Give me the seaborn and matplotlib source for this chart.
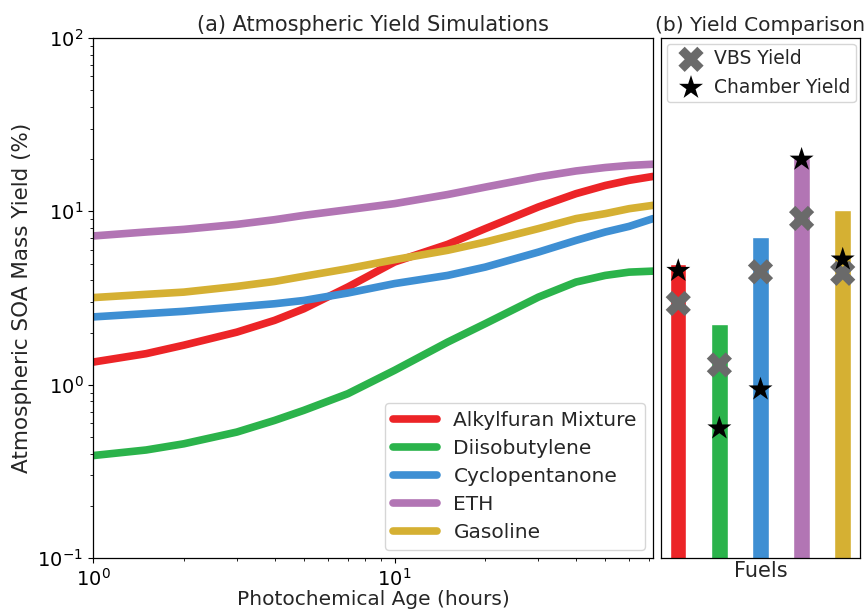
import numpy as np
import pandas as pd
import matplotlib
matplotlib.use("Agg")
import matplotlib.pyplot as plt
import seaborn as sns

# photochemical age sample points (hours) and read-off yields (%)
ages = [1, 1.5, 2, 3, 4, 5, 7, 10, 15, 20, 30, 40, 50, 60, 72]
alkylfuran = [1.35, 1.51, 1.69, 2.01, 2.35, 2.74, 3.66, 5.10, 6.45, 7.95, 10.6, 12.65, 14.1, 15.1, 15.9]
diisobutylene = [0.39, 0.42, 0.456, 0.533, 0.622, 0.711, 0.887, 1.21, 1.76, 2.25, 3.20, 3.91, 4.27, 4.46, 4.52]
cyclopentanone = [2.46, 2.57, 2.65, 2.81, 2.93, 3.06, 3.38, 3.83, 4.27, 4.77, 5.82, 6.80, 7.60, 8.19, 9.08]
eth = [7.21, 7.60, 7.87, 8.41, 8.95, 9.48, 10.22, 11.08, 12.5, 13.8, 15.8, 17.1, 17.9, 18.4, 18.7]
gasoline = [3.18, 3.32, 3.42, 3.69, 3.94, 4.22, 4.67, 5.26, 5.96, 6.65, 7.95, 9.08, 9.70, 10.36, 10.83]

fuels = ["Alkylfuran Mixture", "Diisobutylene", "Cyclopentanone", "ETH", "Gasoline"]
colors = ["#ec2427", "#2bb34b", "#3e8fd3", "#b275b4", "#d5b033"]

# panel (b)
bar_yield = [5.0, 2.24, 7.13, 20.2, 10.2]
vbs_yield = [2.94, 1.30, 4.48, 9.10, 4.39]
chamber_yield = [4.54, 0.56, 0.94, 19.9, 5.28]

sns.set_style("ticks")
plt.rcParams.update({
    "font.family": ["DejaVu Sans"],
    "font.size": 14,
    "axes.edgecolor": "black",
    "axes.linewidth": 0.9,
    "xtick.color": "black",
    "ytick.color": "black",
    "xtick.major.size": 3.5,
    "ytick.major.size": 3.5,
    "xtick.minor.size": 2,
    "ytick.minor.size": 2,
})

curves = pd.DataFrame({
    "age": ages * 5,
    "yield": alkylfuran + diisobutylene + cyclopentanone + eth + gasoline,
    "fuel": sum([[f] * len(ages) for f in fuels], []),
})

fig = plt.figure(figsize=(8.67, 6.12), dpi=100)
ax1 = fig.add_axes([0.1073, 0.0882, 0.6459, 0.8497])
ax2 = fig.add_axes([0.7624, 0.0882, 0.2295, 0.8497], sharey=ax1)

sns.lineplot(data=curves, x="age", y="yield", hue="fuel", hue_order=fuels,
             palette=colors, linewidth=5.5, ax=ax1)
ax1.set_xscale("log")
ax1.set_yscale("log")
ax1.set_xlim(1, 72)
ax1.set_ylim(0.1, 100)
ax1.set_title("(a) Atmospheric Yield Simulations", fontsize=15, pad=5)
ax1.set_xlabel("Photochemical Age (hours)", fontsize=14.5, labelpad=0)
ax1.set_ylabel("Atmospheric SOA Mass Yield (%)", fontsize=15.5)
ax1.tick_params(labelsize=14)
h, l = ax1.get_legend_handles_labels()
for hh in h:
    hh.set_linewidth(5.5)
ax1.legend(h, l, loc="lower right", fontsize=14.5, handlelength=2.2,
           labelspacing=0.45, borderaxespad=0.4)

# panel (b)
bars = pd.DataFrame({"fuel": fuels, "yield": bar_yield})
sns.barplot(data=bars, x="fuel", y="yield", hue="fuel", order=fuels, hue_order=fuels,
            palette=colors, width=0.4, saturation=1, legend=False, ax=ax2)
sns.scatterplot(x=list(range(5)), y=vbs_yield, marker="X", s=330, color="#6a6a6a",
                edgecolor="none", label="VBS Yield", zorder=3, ax=ax2)
sns.scatterplot(x=list(range(5)), y=chamber_yield, marker="*", s=330, color="black",
                edgecolor="none", label="Chamber Yield", zorder=4, ax=ax2)
ax2.set_xlim(-0.42, 4.42)
ax2.set_ylim(0.1, 100)
ax2.set_title("(b) Yield Comparison", fontsize=14.5, pad=5)
ax2.set_xlabel("Fuels", fontsize=15, labelpad=2)
ax2.set_ylabel("")
ax2.set_xticks([])
ax2.tick_params(axis="y", which="both", left=False, labelleft=False)
ax2.legend(loc="upper left", fontsize=13.5, handletextpad=0.2, borderaxespad=0.3,
           borderpad=0.3)

for ax in (ax1, ax2):
    for s in ax.spines.values():
        s.set_visible(True)

fig.savefig("out.png", dpi=100)
